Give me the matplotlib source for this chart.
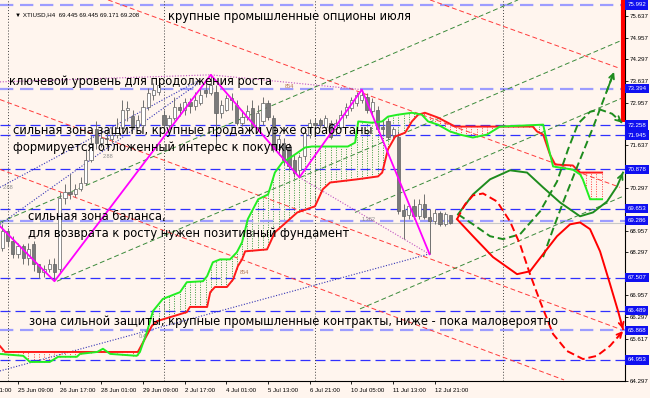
import numpy as np
import matplotlib
matplotlib.use('Agg')
import matplotlib.pyplot as plt
from matplotlib.transforms import blended_transform_factory

# H4 bars, index 0 = 25 Jun 09:00
bar_idx = np.arange(-3, 84)
opens = [68.44, 68.97, 68.66, 68.24, 68.50, 68.12, 68.55, 67.93, 67.68, 67.77, 67.93, 67.77,
         69.98, 70.16, 70.10, 70.26, 70.47, 71.18, 72.12, 71.71, 71.86, 71.81, 71.96, 72.18,
         72.74, 72.55, 72.21, 72.27, 72.83, 73.20, 73.29, 72.58, 72.27, 72.49, 72.83, 72.74,
         72.98, 72.86, 72.95, 73.36, 73.26, 73.29, 72.64, 72.74, 73.11, 72.89, 72.33, 72.52,
         72.80, 72.21, 72.37, 72.95, 72.49, 71.50, 71.71, 71.59, 71.18, 70.87, 71.28, 71.96,
         72.33, 72.43, 72.21, 72.33, 72.12, 72.21, 72.58, 72.80, 72.95, 73.05, 73.14, 72.68,
         72.74, 72.21, 72.37, 71.96, 71.90, 69.60, 69.45, 69.73, 69.42, 69.79, 69.39, 69.26,
         69.51, 69.17, 69.445]
highs = [69.18, 69.05, 68.81, 68.58, 68.55, 68.60, 68.66, 67.93, 67.90, 68.08, 68.12, 70.16,
         70.41, 70.72, 70.41, 70.63, 71.50, 71.96, 72.37, 72.12, 72.06, 72.18, 72.49, 73.05,
         73.00, 72.74, 72.58, 73.05, 73.42, 73.57, 73.67, 72.74, 72.58, 73.14, 72.95, 73.11,
         73.11, 73.29, 73.42, 73.60, 73.82, 73.51, 73.05, 73.20, 73.26, 73.05, 72.74, 72.89,
         73.05, 72.89, 73.14, 73.05, 72.58, 71.96, 71.86, 71.71, 71.34, 71.34, 72.12, 72.46,
         72.49, 72.49, 72.58, 72.43, 72.46, 72.74, 72.95, 73.14, 73.29, 73.36, 73.26, 73.11,
         72.86, 72.43, 72.49, 72.21, 72.06, 69.79, 69.79, 69.95, 69.95, 70.10, 69.64, 69.64,
         69.57, 69.54, 69.445]
lows = [68.35, 68.50, 68.12, 68.12, 67.93, 67.90, 67.72, 67.50, 67.54, 67.70, 67.40, 67.70,
        69.79, 69.95, 70.01, 70.20, 70.38, 71.12, 71.50, 71.56, 71.56, 71.71, 71.86, 72.12,
        72.37, 72.12, 72.18, 72.21, 72.74, 73.05, 73.20, 72.21, 72.18, 72.43, 72.55, 72.58,
        72.64, 72.74, 72.89, 73.14, 73.20, 71.50, 72.49, 72.68, 72.74, 72.27, 72.24, 72.43,
        72.12, 72.12, 72.27, 72.43, 71.43, 71.34, 71.03, 70.87, 70.63, 70.63, 71.18, 71.86,
        72.18, 72.18, 72.12, 71.81, 71.96, 72.12, 72.49, 72.68, 72.86, 72.95, 72.64, 72.58,
        72.06, 71.96, 71.81, 71.86, 69.48, 68.71, 69.33, 69.33, 69.33, 69.33, 68.24, 69.17,
        69.11, 69.11, 69.171]
closes = [68.97, 68.66, 68.24, 68.50, 68.12, 68.39, 67.93, 67.68, 67.77, 67.93, 67.70, 69.98,
          70.16, 70.10, 70.26, 70.47, 71.18, 71.71, 71.71, 71.86, 71.81, 71.96, 72.18, 72.74,
          72.80, 72.21, 72.43, 72.83, 73.26, 73.36, 73.51, 72.27, 72.49, 72.83, 72.74, 72.98,
          72.86, 73.05, 73.20, 73.26, 73.51, 72.64, 72.89, 73.11, 73.05, 72.33, 72.52, 72.68,
          72.21, 72.64, 72.95, 72.52, 71.50, 71.81, 71.18, 70.97, 70.78, 71.25, 72.02, 72.33,
          72.27, 72.27, 72.49, 71.90, 72.33, 72.58, 72.83, 73.05, 73.20, 73.20, 72.74, 72.98,
          72.12, 72.12, 71.90, 72.12, 69.57, 69.42, 69.73, 69.42, 69.79, 69.39, 69.26, 69.51,
          69.17, 69.48, 69.208]

# Ichimoku cloud borders (bar, price)
span_a_x = [-3.5, 1.0, 2.3, 6.1, 7.7, 11.3, 11.9, 15.2, 16.3, 17.7, 22.8, 23.4, 24.8, 25.9,
            27.8, 31.1, 32.4, 35.5, 36.3, 37.4, 38.8, 40.7, 42.0, 43.0, 44.1, 46.1, 48.0, 49.3,
            50.7, 52.6, 55.1, 56.4, 63.3, 64.7, 65.3, 67.9, 69.9, 71.0, 72.9, 75.6, 77.5, 78.7,
            80.6, 82.9, 84.8, 87.3, 90.0, 92.5, 100.8, 101.2, 102.7, 106.5, 107.9, 108.4, 109.8, 112.1]
span_a_y = [65.14, 65.08, 64.89, 64.89, 65.05, 65.05, 65.14, 65.20, 65.30, 65.14, 65.08, 65.20,
            65.85, 66.47, 66.85, 67.06, 67.37, 67.40, 67.56, 67.99, 68.08, 68.08, 68.30, 68.61,
            69.33, 69.95, 70.10, 70.78, 71.09, 71.28, 71.56, 71.59, 71.59, 71.71, 72.37, 72.33,
            72.37, 72.52, 72.58, 72.64, 72.58, 72.37, 72.27, 72.06, 71.96, 71.87, 71.96, 72.21,
            72.27, 71.96, 70.97, 70.87, 70.72, 70.57, 69.95, 69.95]
span_b_x = [-3.5, -2.5, 23.0, 25.7, 26.7, 32.4, 33.0, 36.3, 36.9, 37.8, 40.1, 41.3, 42.2, 43.0,
            43.6, 47.8, 49.3, 53.6, 57.0, 58.5, 59.9, 65.1, 69.1, 69.9, 71.0, 72.4, 74.3, 75.6,
            76.8, 78.1, 80.6, 82.5, 83.9, 98.8, 99.6, 100.8, 102.1, 103.1, 106.5, 107.3, 107.9, 112.1]
span_b_y = [65.39, 65.20, 65.20, 66.01, 66.16, 66.44, 66.60, 66.60, 67.06, 67.22, 67.22, 67.46,
            67.87, 68.08, 68.33, 68.39, 68.92, 69.54, 69.73, 70.26, 70.47, 70.57, 70.66, 70.78,
            71.50, 71.90, 72.02, 72.37, 72.58, 72.64, 72.49, 72.33, 72.21, 72.21, 72.06, 71.96,
            71.34, 71.03, 71.00, 70.87, 70.78, 70.78]

zigzag = [(-4, 69.2), (7, 67.40), (37, 73.82), (54, 70.63), (66, 73.36), (79, 68.24)]

levels = [75.992, 73.394, 72.258, 71.945, 70.878, 69.653, 69.286, 67.507, 66.489, 65.868, 64.953]
level_light = [True, True, False, False, False, False, True, False, False, True, False]
bid = 69.208
price_ticks = [75.637, 74.957, 74.297, 73.637, 72.957, 71.637, 70.297, 68.957, 68.297,
               66.957, 66.297, 65.617, 64.297]

x_labels = ["24 Jun 21:00", "25 Jun 09:00", "26 Jun 17:00", "28 Jun 01:00", "29 Jun 09:00",
            "2 Jul 17:00", "4 Jul 01:00", "5 Jul 13:00", "6 Jul 21:00", "10 Jul 05:00",
            "11 Jul 13:00", "12 Jul 21:00"]
x_label_bars = [-8, 0, 8, 16, 24, 32, 40, 48, 56, 64, 72, 80]
week_seps = [-2, 28, 57, 93]

red_lines = [((17.27, 76.15), (115.55, 70.32)), ((79.08, 76.15), (115.17, 74.04)),
             ((-3.46, 73.05), (115.55, 65.91)), ((-3.46, 70.88), (104.8, 64.33))]
green_lines = [((-3.46, 69.23), (95.97, 76.15)), ((7.49, 67.40), (116.12, 74.91)),
               ((64.68, 69.54), (116.12, 73.11)), ((65.64, 66.54), (116.12, 70.04))]
blue_lines = [((-3.46, 64.61), (78.7, 68.24)), ((-3.46, 69.17), (35.0, 73.60)),
              ((-3.46, 70.32), (35.0, 73.67))]
purple_lines = [[(-3.46, 73.60), (37, 73.82), (66, 73.36)], [(54, 70.63), (79, 68.24)]]
red_bar = (116.1, 72.36, 76.15)

# projections
green_solid_x = [84.45, 87.33, 90.60, 94.43, 97.70, 100.77, 104.03, 107.87, 110.36, 113.05, 114.97, 116.12]
green_solid_y = [69.48, 70.10, 70.57, 70.85, 70.78, 70.32, 69.85, 69.42, 69.54, 69.88, 70.35, 70.78]
green_dash1_x = [84.45, 87.33, 90.60, 93.09, 96.35, 100.19, 103.45, 105.57, 107.49, 109.79, 111.71, 114.01, 115.93]
green_dash1_y = [69.48, 69.17, 68.80, 68.71, 68.86, 69.57, 70.50, 71.50, 72.30, 72.67, 72.74, 72.61, 72.33]
green_dash2_x = [100.77, 102.69, 104.61, 107.49, 110.36, 114.40]
green_dash2_y = [68.15, 69.02, 69.85, 71.03, 72.18, 73.91]
red_solid_x = [84.26, 87.33, 91.17, 95.78, 98.27, 100.77, 103.45, 105.95, 107.87, 109.79, 111.71, 113.63, 115.17, 116.12]
red_solid_y = [69.33, 68.80, 68.15, 67.62, 67.71, 68.24, 68.80, 69.17, 69.23, 69.02, 68.33, 67.31, 66.47, 65.91]
red_dash_x = [84.26, 85.80, 87.33, 89.25, 91.94, 94.43, 96.35, 98.27, 100.19, 102.69, 105.37, 108.44, 111.13, 113.63, 116.12]
red_dash_y = [69.33, 69.79, 70.07, 70.13, 69.88, 69.26, 68.55, 67.62, 66.78, 65.76, 65.23, 64.98, 65.08, 65.39, 65.85]

fib_labels = [("2.88", -2.9, 70.32), ("2.88", 16.3, 71.28), ("854", 51.2, 73.45),
              ("854", 42.6, 67.68), ("1.382", 66.0, 69.33), ("0.4", 23.2, 65.67)]

notes = [("крупные промышленные опционы июля", 28.8, 75.62),
         ("ключевой уровень для продолжения роста", -1.7, 73.60),
         ("сильная зона защиты, крупные продажи уэже отработаны", -1.0, 72.08),
         ("формируется отложенный интерес к покупке", -1.0, 71.56),
         ("сильная зона баланса,", 1.9, 69.42),
         ("для возврата к росту нужен позитивный фундамент", 1.9, 68.89),
         ("зона сильной защиты, крупные промышленные контракты, ниже - пока маловероятно", 2.1, 66.16)]

bg = '#FFF5EE'
small_font = ['Liberation Sans', 'DejaVu Sans']
fig = plt.figure(figsize=(6.5, 3.98), dpi=100, facecolor=bg)
ax = fig.add_axes([0, 17 / 398, 625 / 650, 381 / 398], facecolor=bg)
ax.set_xlim(-3.455, 116.5)
ax.set_ylim(64.333, 76.147)

# cloud hatch
grid = np.arange(-3, 113)
a_v = np.interp(grid, span_a_x, span_a_y)
b_v = np.interp(grid, span_b_x, span_b_y)
up = a_v >= b_v
ax.vlines(grid[up], b_v[up], a_v[up], color='#3C9A3C', lw=0.7, linestyles=(0, (1, 1.5)), zorder=1)
ax.vlines(grid[~up], a_v[~up], b_v[~up], color='#FF4040', lw=0.7, linestyles=(0, (1, 1.5)), zorder=1)

# levels
for lv, light in zip(levels, level_light):
    if light:
        ax.axhline(lv, color='#9C9CFF', lw=1.6, dashes=(6, 3), zorder=2)
    else:
        ax.axhline(lv, color='#3030FF', lw=0.9, dashes=(8, 4), zorder=2)
ax.axhline(bid, color='#C8C8C8', lw=0.8, zorder=2)

for b in week_seps:
    ax.axvline(b, color='#404040', lw=0.7, ls=(0, (1, 2)), zorder=2)

# trend lines
for (x0, y0), (x1, y1) in red_lines:
    ax.plot([x0, x1], [y0, y1], color='#FF3A3A', lw=0.7, dashes=(5, 3), zorder=3)
for (x0, y0), (x1, y1) in green_lines:
    ax.plot([x0, x1], [y0, y1], color='#3A8A3A', lw=0.7, dashes=(5, 3), zorder=3)
for (x0, y0), (x1, y1) in blue_lines:
    ax.plot([x0, x1], [y0, y1], color='#3535B5', lw=0.8, ls=(0, (1, 1.5)), zorder=3)
for pts in purple_lines:
    px, py = zip(*pts)
    ax.plot(px, py, color='#C050C0', lw=0.8, ls=(0, (1, 1.5)), zorder=3)

# candles
o = np.array(opens); h = np.array(highs); l = np.array(lows); c = np.array(closes)
ax.vlines(bar_idx, l, h, color='#707070', lw=0.7, zorder=4)
body_lo = np.minimum(o, c)
body_h = np.maximum(np.abs(c - o), 0.02)
faces = np.where(c >= o, '#FFFFFF', '#7A7A7A')
ax.bar(bar_idx, body_h, bottom=body_lo, width=0.62, color=faces, edgecolor='#606060', lw=0.5, zorder=5)

# cloud borders
ax.plot(span_b_x, span_b_y, color='#FF1A1A', lw=1.4, zorder=6)
ax.plot(span_a_x, span_a_y, color='#22EE22', lw=1.4, zorder=6)

zx, zy = zip(*zigzag)
ax.plot(zx, zy, color='#FF00FF', lw=1.3, zorder=6)

ax.plot([red_bar[0], red_bar[0]], [red_bar[1], red_bar[2]], color='#FF0000', lw=3, solid_capstyle='butt', zorder=7)


def curve(xs, ys, color, dashed):
    ls = (0, (4, 2)) if dashed else '-'
    ax.plot(xs, ys, color=color, lw=1.4, ls=ls, zorder=7)
    xe, ye = xs[-1], ys[-1]
    xs0 = xe - 0.35 * (xe - xs[-2])
    ys0 = ye - 0.35 * (ye - ys[-2])
    ax.annotate('', xy=(xe, ye), xytext=(xs0, ys0),
                arrowprops=dict(arrowstyle='->', color=color, lw=1.3, mutation_scale=9,
                                shrinkA=0, shrinkB=0), zorder=7, annotation_clip=False)


curve(green_solid_x, green_solid_y, '#1E8C1E', False)
curve(green_dash1_x, green_dash1_y, '#1E8C1E', True)
curve(green_dash2_x, green_dash2_y, '#1E8C1E', True)
curve(red_solid_x, red_solid_y, '#FF0000', False)
curve(red_dash_x, red_dash_y, '#FF0000', True)

for t, bx, py in fib_labels:
    col = '#B07050' if t == "854" else '#8A8A8A'
    ax.text(bx, py, t, fontsize=4, color=col, ha='left', va='center', zorder=8, family=small_font)

for t, bx, py in notes:
    ax.text(bx, py, t, fontsize=8.3, color='black', ha='left', va='center', zorder=9,
            family=['DejaVu Sans'])

ax.text(0.024, 0.961, "\u25bc XTIUSD,H4  69.445 69.445 69.171 69.208", transform=ax.transAxes,
        fontsize=4.4, color='black', ha='left', va='center', zorder=9, family=small_font)

# axes styling
for s in ['left', 'top']:
    ax.spines[s].set_visible(False)
for s in ['right', 'bottom']:
    ax.spines[s].set_color('black')
    ax.spines[s].set_linewidth(0.8)
ax.yaxis.tick_right()
ax.set_yticks(price_ticks)
ax.set_yticklabels([f'{v:.3f}' for v in price_ticks], family=small_font)
ax.tick_params(axis='y', labelsize=4.4, length=2, pad=1.5, width=0.6)
vis = [b for b in x_label_bars if b >= -3.4]
ax.set_xticks(vis)
ax.set_xticklabels([])
ax.tick_params(axis='x', length=2, width=0.6)

bt = blended_transform_factory(ax.transData, ax.transAxes)
for lab, b in zip(x_labels, x_label_bars):
    ax.text(b, -0.026, lab, transform=bt, fontsize=4.4, ha='left', va='center', clip_on=False,
            family=small_font)

rt = blended_transform_factory(ax.transAxes, ax.transData)
for lv in levels:
    ax.text(1.004, lv, f'{lv:.3f}', transform=rt, fontsize=4.4, color='white', ha='left',
            va='center', clip_on=False, zorder=10, family=small_font,
            bbox=dict(boxstyle='square,pad=0.35', fc='#1010F0', ec='none'))

fig.savefig('out.png', dpi=100, facecolor=bg)
